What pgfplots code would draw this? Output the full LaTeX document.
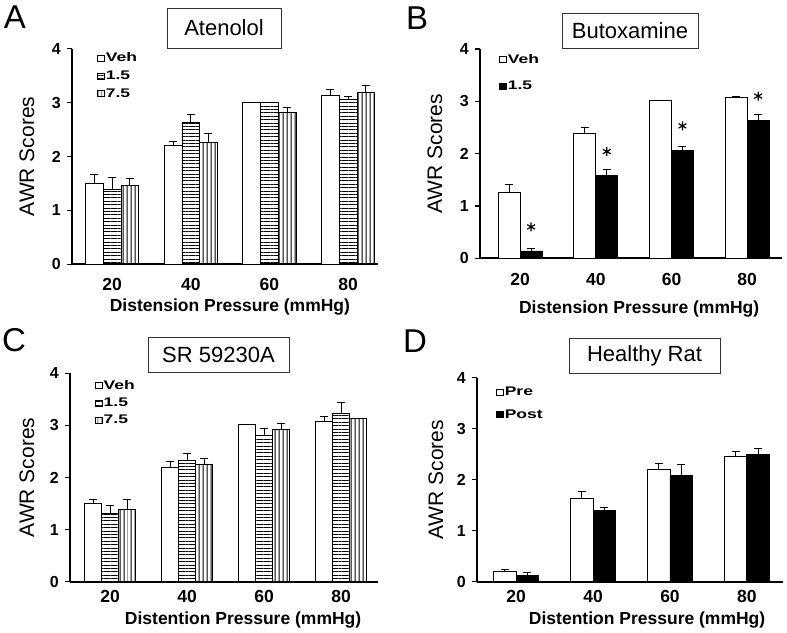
\documentclass[border=0pt]{standalone}
\usepackage{fontspec}
\setmainfont{Liberation Sans}
\newfontfamily\legfont{Liberation Sans}[FakeStretch=1.4]
\usepackage{pgfplots}
\pgfplotsset{compat=1.18}
\usetikzlibrary{patterns.meta}

\newcommand{\fs}[1]{\fontsize{#1}{1.2\dimexpr#1\relax}\selectfont}

\pgfplotsset{
  awr/.style={
    scale only axis,
    axis lines*=left,
    axis line style={line width=1.6bp, black},
    ymin=0, ymax=4, ytick={0,1,2,3,4}, yticklabels={0,1,2,3,4},
    xtick={1,2,3,4}, xticklabels={20,40,60,80},
    x tick style={draw=none},
    y tick style={line width=1.4bp, black},
    tick align=outside, major tick length=5bp,
    yticklabel style={font=\fs{16bp}\bfseries, inner sep=0pt, anchor=east, xshift=-6bp},
    xticklabel style={font=\fs{17.5bp}\bfseries, inner sep=0pt, anchor=north},
    ylabel={AWR Scores},
    ylabel style={font=\fs{21bp}, inner sep=0pt, anchor=center},
    xlabel style={font=\fs{17.5bp}\bfseries, inner sep=0pt, anchor=north},
    legend style={draw=none, fill=none, inner sep=0pt, outer sep=0pt, anchor=north west,
      font=\legfont\fs{12.5bp}\bfseries, cells={anchor=west},
      nodes={inner sep=1bp}},
    legend cell align=left,
  },
  mybar/.style={ybar, draw=black, line width=0.8bp,
    legend image code/.code={\draw[##1, line width=0.8bp] (0bp,-3bp) rectangle (7bp,3bp);}},
  err/.style={draw=none, mark=none, forget plot,
    /pgfplots/error bars/y dir=plus, /pgfplots/error bars/y explicit,
    /pgfplots/error bars/error bar style={draw=black, line width=1bp},
    /pgfplots/error bars/error mark options={draw=black, line width=1bp, mark size=4bp, rotate=90}},
  hl/.style={pattern={Lines[angle=0, distance=3.4bp, line width=0.9bp]}},
  vl/.style={pattern={Lines[angle=90, distance=3.9bp, line width=0.9bp]}},
}
\tikzset{titlebox/.style={draw=black!80, line width=0.8bp, font=\fs{22bp}, inner sep=0pt}}

\begin{document}
\begin{tikzpicture}
\useasboundingbox (0,0) rectangle (787bp,633bp);

% ---- A: Atenolol
\begin{axis}[awr, at={(72bp,368.7bp)}, anchor=south west,
  width=306bp, height=215.6bp, xmin=0.49, xmax=4.38,
  xticklabel style={yshift=-9bp},
  xlabel={Distension Pressure (mmHg)},
  xlabel style={at={(axis description cs:0.516,0)}, yshift=-34bp},
  ylabel style={at={(axis description cs:-0.147,0.5)}},
  legend style={at={(axis description cs:0.082,0.985)}, row sep=5.5bp},
]
\addplot[mybar, fill=white, bar width=0.225, bar shift=-0.225]
  coordinates {(1,1.51) (2,2.20) (3,3.00) (4,3.13)};
\addlegendentry{Veh}
\addplot[mybar, hl, bar width=0.225, bar shift=0]
  coordinates {(1,1.39) (2,2.64) (3,3.00) (4,3.06)};
\addlegendentry{1.5}
\addplot[mybar, vl, bar width=0.225, bar shift=0.225]
  coordinates {(1,1.46) (2,2.26) (3,2.82) (4,3.18)};
\addlegendentry{7.5}
\addplot[err] coordinates {(0.775,1.51) +- (0,0.15) (1.775,2.20) +- (0,0.08) (3.775,3.13) +- (0,0.11)};
\addplot[err] coordinates {(1,1.39) +- (0,0.22) (2,2.64) +- (0,0.13) (4,3.06) +- (0,0.05)};
\addplot[err] coordinates {(1.225,1.46) +- (0,0.14) (2.225,2.26) +- (0,0.16) (3.225,2.82) +- (0,0.08) (4.225,3.18) +- (0,0.13)};
\end{axis}

% ---- B: Butoxamine
\begin{axis}[awr, at={(480bp,374.7bp)}, anchor=south west,
  width=302bp, height=209.3bp, xmin=0.47, xmax=4.46,
  xticklabel style={yshift=-10bp},
  xlabel={Distension Pressure (mmHg)},
  xlabel style={at={(axis description cs:0.527,0)}, yshift=-42bp},
  ylabel style={at={(axis description cs:-0.149,0.5)}},
  legend style={at={(axis description cs:0.063,0.98)}, row sep=14.5bp},
]
\addplot[mybar, fill=white, bar width=0.29, bar shift=-0.145]
  coordinates {(1,1.26) (2,2.38) (3,3.01) (4,3.07)};
\addlegendentry{Veh}
\addplot[mybar, fill=black, bar width=0.29, bar shift=0.145]
  coordinates {(1,0.14) (2,1.58) (3,2.06) (4,2.64)};
\addlegendentry{1.5}
\addplot[err] coordinates {(0.855,1.26) +- (0,0.15) (1.855,2.38) +- (0,0.12) (2.855,3.01) +- (0,0.01) (3.855,3.07) +- (0,0.03)};
\addplot[err] coordinates {(1.145,0.14) +- (0,0.05) (2.145,1.58) +- (0,0.12) (3.145,2.06) +- (0,0.08) (4.145,2.64) +- (0,0.10)};
\addplot[only marks, mark=asterisk, mark size=4.5bp, line width=1.2bp, black, forget plot]
  coordinates {(1.145,0.60) (2.145,2.04) (3.145,2.53) (4.145,3.10)};
\end{axis}

% ---- C: SR 59230A
\begin{axis}[awr, at={(70bp,51.3bp)}, anchor=south west,
  width=308bp, height=208.4bp, xmin=0.48, xmax=4.48,
  xticklabel style={yshift=-3bp},
  xlabel={Distention Pressure (mmHg)},
  xlabel style={at={(axis description cs:0.562,0)}, yshift=-30bp},
  ylabel style={at={(axis description cs:-0.14,0.5)}},
  legend style={at={(axis description cs:0.081,0.97)}, row sep=5bp},
]
\addplot[mybar, fill=white, bar width=0.221, bar shift=-0.221]
  coordinates {(1,1.50) (2,2.20) (3,3.01) (4,3.07)};
\addlegendentry{Veh}
\addplot[mybar, hl, bar width=0.221, bar shift=0]
  coordinates {(1,1.32) (2,2.32) (3,2.81) (4,3.23)};
\addlegendentry{1.5}
\addplot[mybar, vl, bar width=0.221, bar shift=0.221]
  coordinates {(1,1.38) (2,2.26) (3,2.93) (4,3.13)};
\addlegendentry{7.5}
\addplot[err] coordinates {(0.779,1.50) +- (0,0.07) (1.779,2.20) +- (0,0.10) (2.779,3.01) +- (0,0.01) (3.779,3.07) +- (0,0.10)};
\addplot[err] coordinates {(1,1.32) +- (0,0.15) (2,2.32) +- (0,0.14) (3,2.81) +- (0,0.13) (4,3.23) +- (0,0.20)};
\addplot[err] coordinates {(1.221,1.38) +- (0,0.19) (2.221,2.26) +- (0,0.11) (3.221,2.93) +- (0,0.11)};
\end{axis}

% ---- D: Healthy Rat
\begin{axis}[awr, at={(477bp,51.3bp)}, anchor=south west,
  width=306bp, height=204bp, xmin=0.49, xmax=4.47,
  xticklabel style={yshift=-3bp},
  xlabel={Distention Pressure (mmHg)},
  xlabel style={at={(axis description cs:0.556,0)}, yshift=-30bp},
  ylabel style={at={(axis description cs:-0.134,0.5)}},
  legend style={at={(axis description cs:0.062,0.96)}, row sep=10.5bp},
]
\addplot[mybar, fill=white, bar width=0.293, bar shift=-0.146]
  coordinates {(1,0.20) (2,1.63) (3,2.20) (4,2.46)};
\addlegendentry{Pre}
\addplot[mybar, fill=black, bar width=0.293, bar shift=0.146]
  coordinates {(1,0.13) (2,1.40) (3,2.08) (4,2.50)};
\addlegendentry{Post}
\addplot[err] coordinates {(0.854,0.20) +- (0,0.04) (1.854,1.63) +- (0,0.13) (2.854,2.20) +- (0,0.11) (3.854,2.46) +- (0,0.10)};
\addplot[err] coordinates {(1.146,0.13) +- (0,0.06) (2.146,1.40) +- (0,0.05) (3.146,2.08) +- (0,0.21) (4.146,2.50) +- (0,0.11)};
\end{axis}

% titles and panel letters
\node[titlebox, minimum width=114bp, minimum height=40bp] at (224bp,605bp) {Atenolol};
\node[titlebox, minimum width=136bp, minimum height=35bp] at (630bp,602.5bp) {Butoxamine};
\node[titlebox, minimum width=141bp, minimum height=35bp] at (218.5bp,278.5bp) {SR 59230A};
\node[titlebox, minimum width=151bp, minimum height=35bp] at (644.5bp,277.5bp) {Healthy Rat};
\node[font=\fs{33bp}] at (15bp,615.5bp) {A};
\node[font=\fs{33bp}] at (417bp,614.5bp) {B};
\node[font=\fs{33bp}] at (14bp,293bp) {C};
\node[font=\fs{33bp}] at (415bp,291.5bp) {D};
\end{tikzpicture}
\end{document}
